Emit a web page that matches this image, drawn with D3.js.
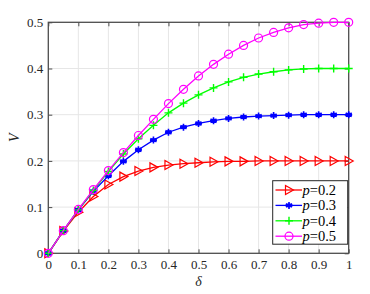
<!DOCTYPE html>
<html>
<head>
<meta charset="utf-8">
<script src="https://cdn.jsdelivr.net/npm/d3@7"></script>
<style>
  body { margin: 0; background: #fff; }
</style>
</head>
<body>
<div id="chart"></div>
<script>
// delta values along the x axis
const deltas = [0, 0.05, 0.1, 0.15, 0.2, 0.25, 0.3, 0.35, 0.4, 0.45, 0.5,
                0.55, 0.6, 0.65, 0.7, 0.75, 0.8, 0.85, 0.9, 0.95, 1];

// V, one array per p
const vP02 = [0, 0.048, 0.089, 0.123, 0.149, 0.166, 0.178, 0.186, 0.191, 0.194, 0.196,
              0.198, 0.199, 0.199, 0.2, 0.2, 0.2, 0.2, 0.2, 0.2, 0.2];
const vP03 = [0, 0.049, 0.094, 0.134, 0.168, 0.199, 0.224, 0.245, 0.262, 0.273, 0.281,
              0.287, 0.292, 0.295, 0.297, 0.298, 0.299, 0.3, 0.3, 0.3, 0.3];
const vP04 = [0, 0.049, 0.094, 0.136, 0.177, 0.215, 0.248, 0.277, 0.304, 0.325, 0.343,
              0.358, 0.371, 0.381, 0.388, 0.393, 0.397, 0.399, 0.4, 0.4, 0.4];
const vP05 = [0, 0.049, 0.095, 0.138, 0.179, 0.218, 0.255, 0.290, 0.324, 0.355, 0.384,
              0.409, 0.431, 0.450, 0.466, 0.478, 0.488, 0.495, 0.498, 0.5, 0.5];

const seriesNames = ["0.2", "0.3", "0.4", "0.5"];
const xTicks = [0, 0.1, 0.2, 0.3, 0.4, 0.5, 0.6, 0.7, 0.8, 0.9, 1];
const yTicks = [0, 0.1, 0.2, 0.3, 0.4, 0.5];

const series = [
  { name: seriesNames[0], values: vP02, color: "#ff0000", marker: "tri" },
  { name: seriesNames[1], values: vP03, color: "#0000ff", marker: "star" },
  { name: seriesNames[2], values: vP04, color: "#00ff00", marker: "plus" },
  { name: seriesNames[3], values: vP05, color: "#ff00ff", marker: "circle" }
];

const width = 370, height = 294;
const plotLeft = 48.3, plotRight = 348.7, plotTop = 22.3, plotBottom = 253.3;
const serif = '"Liberation Serif", "Times New Roman", serif';

const svg = d3.select("#chart").append("svg")
  .attr("width", width)
  .attr("height", height);

const x = d3.scaleLinear().domain([0, 1]).range([plotLeft, plotRight]);
const y = d3.scaleLinear().domain([0, 0.5]).range([plotBottom, plotTop]);

// grid
svg.append("g").selectAll("line").data(xTicks.slice(1, -1)).enter().append("line")
  .attr("x1", d => x(d)).attr("x2", d => x(d))
  .attr("y1", plotTop).attr("y2", plotBottom)
  .attr("stroke", "#e6e6e6").attr("stroke-width", 1);
svg.append("g").selectAll("line").data(yTicks.slice(1, -1)).enter().append("line")
  .attr("y1", d => y(d)).attr("y2", d => y(d))
  .attr("x1", plotLeft).attr("x2", plotRight)
  .attr("stroke", "#e6e6e6").attr("stroke-width", 1);

// axes, ticks inward on all four sides
const axisColor = "#4d4d4d";
function styleAxis(g, showText) {
  g.attr("font-family", serif).attr("font-size", 13);
  g.select(".domain").remove();
  g.selectAll(".tick line").attr("stroke", axisColor);
  g.selectAll(".tick text")
    .attr("fill", "#262626")
    .style("font-family", serif)
    .style("font-size", "13px");
  if (!showText) g.selectAll(".tick text").remove();
}
svg.append("g").attr("transform", `translate(0,${plotBottom})`)
  .call(d3.axisBottom(x).tickValues(xTicks).tickSize(-4).tickPadding(6).tickFormat(d3.format("")))
  .call(g => styleAxis(g, true));
svg.append("g").attr("transform", `translate(0,${plotTop})`)
  .call(d3.axisTop(x).tickValues(xTicks).tickSize(-4))
  .call(g => styleAxis(g, false));
svg.append("g").attr("transform", `translate(${plotLeft},0)`)
  .call(d3.axisLeft(y).tickValues(yTicks).tickSize(-4).tickPadding(5).tickFormat(d3.format("")))
  .call(g => styleAxis(g, true));
svg.append("g").attr("transform", `translate(${plotRight},0)`)
  .call(d3.axisRight(y).tickValues(yTicks).tickSize(-4))
  .call(g => styleAxis(g, false));

svg.append("rect")
  .attr("x", plotLeft).attr("y", plotTop)
  .attr("width", plotRight - plotLeft).attr("height", plotBottom - plotTop)
  .attr("fill", "none").attr("stroke", axisColor).attr("stroke-width", 1.3);

// axis labels
svg.append("text")
  .attr("x", x(0.5)).attr("y", 286)
  .attr("text-anchor", "middle")
  .style("font-family", serif)
  .style("font-size", "14px").style("font-style", "italic")
  .attr("fill", "#262626")
  .text("δ");
svg.append("text")
  .attr("transform", `translate(19,${y(0.25)}) rotate(-90)`)
  .attr("text-anchor", "middle")
  .style("font-family", serif)
  .style("font-size", "14px").style("font-style", "italic")
  .attr("fill", "#262626")
  .text("V");

function drawMarker(g, type, color, cx, cy) {
  if (type === "tri") {
    g.append("path")
      .attr("d", `M${cx - 3.5},${cy - 4.5}L${cx + 4.5},${cy}L${cx - 3.5},${cy + 4.5}Z`)
      .attr("fill", "none").attr("stroke", color).attr("stroke-width", 1.2);
  } else if (type === "circle") {
    g.append("circle").attr("cx", cx).attr("cy", cy).attr("r", 4)
      .attr("fill", "none").attr("stroke", color).attr("stroke-width", 1.2);
  } else if (type === "plus") {
    g.append("path")
      .attr("d", `M${cx - 4},${cy}L${cx + 4},${cy}M${cx},${cy - 4}L${cx},${cy + 4}`)
      .attr("stroke", color).attr("stroke-width", 1.4);
  } else {
    const r = 3.5;
    let d = "";
    [0, 60, 120].forEach(a => {
      const t = a * Math.PI / 180;
      d += `M${cx - r * Math.sin(t)},${cy - r * Math.cos(t)}L${cx + r * Math.sin(t)},${cy + r * Math.cos(t)}`;
    });
    d += `M${cx - r},${cy}L${cx + r},${cy}`;
    g.append("path").attr("d", d).attr("stroke", color).attr("stroke-width", 1.6);
    g.append("circle").attr("cx", cx).attr("cy", cy).attr("r", 2.2).attr("fill", color);
  }
}

const line = d3.line().x((d, i) => x(deltas[i])).y(d => y(d));

series.forEach(s => {
  const g = svg.append("g");
  g.append("path").datum(s.values)
    .attr("d", line)
    .attr("fill", "none").attr("stroke", s.color).attr("stroke-width", 1.3);
  s.values.forEach((v, i) => drawMarker(g, s.marker, s.color, x(deltas[i]), y(v)));
});

// legend
const lg = svg.append("g");
lg.append("rect")
  .attr("x", 272.7).attr("y", 180.7).attr("width", 75).attr("height", 63.5)
  .attr("fill", "#fff").attr("stroke", "#262626").attr("stroke-width", 1);
series.forEach((s, i) => {
  const ly = 190 + i * 15.4;
  lg.append("line").attr("x1", 275.5).attr("x2", 302).attr("y1", ly).attr("y2", ly)
    .attr("stroke", s.color).attr("stroke-width", 1.3);
  drawMarker(lg, s.marker, s.color, 289, ly);
  const t = lg.append("text").attr("x", 302.5).attr("y", ly + 5)
    .style("font-family", serif)
    .style("font-size", "14.5px").attr("fill", "#000");
  t.append("tspan").style("font-style", "italic").text("p");
  t.append("tspan").text("=" + s.name);
});
</script>
</body>
</html>
